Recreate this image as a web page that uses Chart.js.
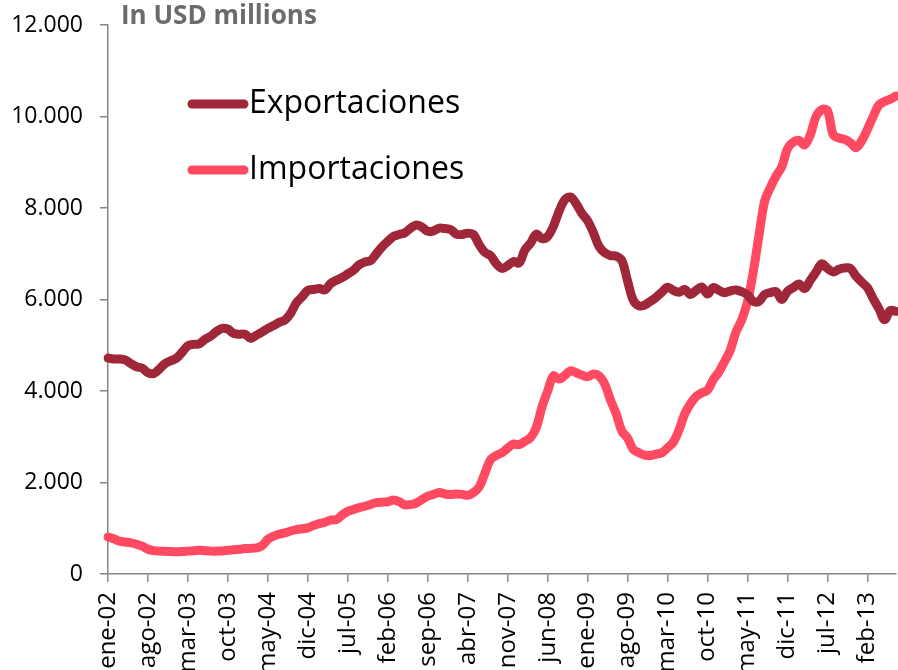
<!DOCTYPE html>
<html>
<head>
<meta charset="utf-8">
<script src="https://cdn.jsdelivr.net/npm/chart.js@4/dist/chart.umd.min.js"></script>
<style>
  html, body { margin: 0; padding: 0; background: #fff; overflow: hidden; }
  #wrap { width: 898px; height: 670px; }
</style>
</head>
<body>
<div id="wrap"><canvas id="comercio" width="898" height="670"></canvas></div>
<script>
// monthly series, ene-02 .. jul-13 (USD millions)
var meses = ['ene', 'feb', 'mar', 'abr', 'may', 'jun', 'jul', 'ago', 'sep', 'oct', 'nov', 'dic'];
var labels = [];
for (var a = 2; a <= 13; a++) {
    for (var m = 0; m < 12; m++) {
        if (a === 13 && m > 6) break;
        labels.push(meses[m] + '-' + (a < 10 ? '0' + a : '' + a));
    }
}

var exportaciones = [
    4720, 4700, 4700, 4680, 4600, 4530, 4500, 4400, 4380, 4480, 4600, 4660,
    4720, 4850, 4990, 5020, 5030, 5130, 5200, 5300, 5370, 5350, 5260, 5240,
    5240, 5150, 5220, 5290, 5370, 5430, 5500, 5550, 5700, 5930, 6060, 6200,
    6220, 6240, 6210, 6350, 6420, 6480, 6560, 6640, 6760, 6820, 6850, 7000,
    7150, 7270, 7380, 7420, 7460, 7560, 7630, 7580, 7490, 7500, 7560, 7550,
    7530, 7430, 7420, 7450, 7420, 7200, 7030, 6960, 6780, 6680, 6740, 6830,
    6800, 7080, 7230, 7430, 7330, 7380, 7600, 7930, 8180, 8240, 8090, 7880,
    7720, 7460, 7160, 7020, 6960, 6950, 6850, 6400, 5980, 5860, 5880, 5960,
    6050, 6160, 6270, 6200, 6160, 6220, 6110, 6200, 6270, 6120, 6260, 6200,
    6150, 6190, 6210, 6170, 6100, 5960, 5960, 6110, 6150, 6170, 6000, 6180,
    6260, 6340, 6240, 6420, 6600, 6780, 6680, 6600, 6660, 6690, 6680, 6510,
    6380, 6260, 6020, 5800, 5560, 5760, 5740
];

var importaciones = [
    810, 770, 720, 700, 680, 650, 610, 540, 510, 500, 495, 490,
    485, 490, 500, 510, 520, 510, 500, 500, 505, 520, 530, 540,
    555, 560, 570, 620, 760, 830, 870, 900, 940, 970, 990, 1010,
    1060, 1100, 1130, 1180, 1190, 1290, 1370, 1410, 1450, 1480, 1520, 1560,
    1570, 1580, 1620, 1580, 1510, 1520, 1550, 1630, 1700, 1740, 1780, 1750,
    1740, 1750, 1740, 1720, 1780, 1900, 2200, 2500, 2590, 2650, 2750, 2840,
    2830, 2900, 2980, 3200, 3650, 4000, 4330, 4260, 4340, 4440, 4400, 4350,
    4310, 4370, 4330, 4150, 3800, 3500, 3120, 2970, 2720, 2650, 2600, 2590,
    2620, 2650, 2760, 2880, 3150, 3500, 3720, 3880, 3960, 4020, 4250, 4420,
    4650, 4900, 5300, 5560, 5950, 6600, 7400, 8150, 8450, 8700, 8900, 9300,
    9440, 9480, 9380, 9600, 10000, 10150, 10130, 9600, 9530, 9500, 9430, 9320,
    9470, 9720, 10000, 10250, 10330, 10380, 10450
];

var yTicks = [0, 2000, 4000, 6000, 8000, 10000, 12000];
var unidad = 'In USD millions';

var colorExp = '#A0263A';
var colorImp = '#FF4A62';
var ejeColor = '#868686';
var fuente = "'Open Sans', 'Noto Sans', sans-serif";

// title and in-plot legend drawn straight on the canvas
var rotulos = {
    id: 'rotulos',
    afterDraw: function(chart) {
        var ctx = chart.ctx;
        ctx.save();
        ctx.font = "bold 26px " + fuente;
        ctx.fillStyle = '#6B6B6B';
        ctx.textBaseline = 'middle';
        ctx.textAlign = 'left';
        ctx.fillText(unidad, 121, 17);

        var filas = [104, 170];
        chart.data.datasets.forEach(function(ds, k) {
            var y = filas[k];
            ctx.strokeStyle = ds.borderColor;
            ctx.lineWidth = 9;
            ctx.lineCap = 'round';
            ctx.beginPath();
            ctx.moveTo(192, y);
            ctx.lineTo(244, y);
            ctx.stroke();
            ctx.font = "32px " + fuente;
            ctx.fillStyle = '#000';
            ctx.fillText(ds.label, 249, y);
        });
        ctx.restore();
    }
};

new Chart(document.getElementById('comercio').getContext('2d'), {
    type: 'line',
    data: {
        labels: labels,
        datasets: [{
            label: 'Exportaciones',
            data: exportaciones,
            borderColor: colorExp,
            backgroundColor: colorExp,
            borderWidth: 9,
            pointRadius: 0,
            tension: 0.35,
            borderCapStyle: 'round',
            borderJoinStyle: 'round',
            fill: false
        }, {
            label: 'Importaciones',
            data: importaciones,
            borderColor: colorImp,
            backgroundColor: colorImp,
            borderWidth: 9,
            pointRadius: 0,
            tension: 0.35,
            borderCapStyle: 'round',
            borderJoinStyle: 'round',
            fill: false
        }]
    },
    options: {
        responsive: false,
        animation: false,
        layout: { padding: { top: 25, right: 2, left: 0, bottom: 0 } },
        plugins: {
            legend: { display: false },
            tooltip: { enabled: false }
        },
        scales: {
            x: {
                offset: false,
                afterFit: function(scale) {
                    scale.height = 96;
                    scale.paddingLeft = 0;
                    scale.paddingRight = 0;
                },
                grid: { drawOnChartArea: false, drawTicks: true, tickLength: 8, color: ejeColor, lineWidth: 1.5 },
                border: { color: ejeColor, width: 1.5 },
                ticks: {
                    autoSkip: false,
                    minRotation: 90,
                    maxRotation: 90,
                    padding: 10,
                    color: '#000',
                    font: { family: fuente, size: 24 },
                    callback: function(val, idx) {
                        return idx % 7 === 0 ? this.getLabelForValue(val) : null;
                    }
                }
            },
            y: {
                min: 0,
                max: 12000,
                afterFit: function(scale) {
                    scale.width = 108;
                    scale.paddingTop = 0;
                    scale.paddingBottom = 0;
                },
                afterBuildTicks: function(scale) {
                    scale.ticks = yTicks.map(function(v) { return { value: v }; });
                },
                grid: { drawOnChartArea: false, drawTicks: true, tickLength: 8, color: ejeColor, lineWidth: 1.5 },
                border: { color: ejeColor, width: 1.5 },
                ticks: {
                    padding: 17,
                    color: '#000',
                    font: { family: fuente, size: 23 },
                    callback: function(v) {
                        return v.toString().replace(/\B(?=(\d{3})+(?!\d))/g, '.');
                    }
                }
            }
        }
    },
    plugins: [rotulos]
});
</script>
</body>
</html>
